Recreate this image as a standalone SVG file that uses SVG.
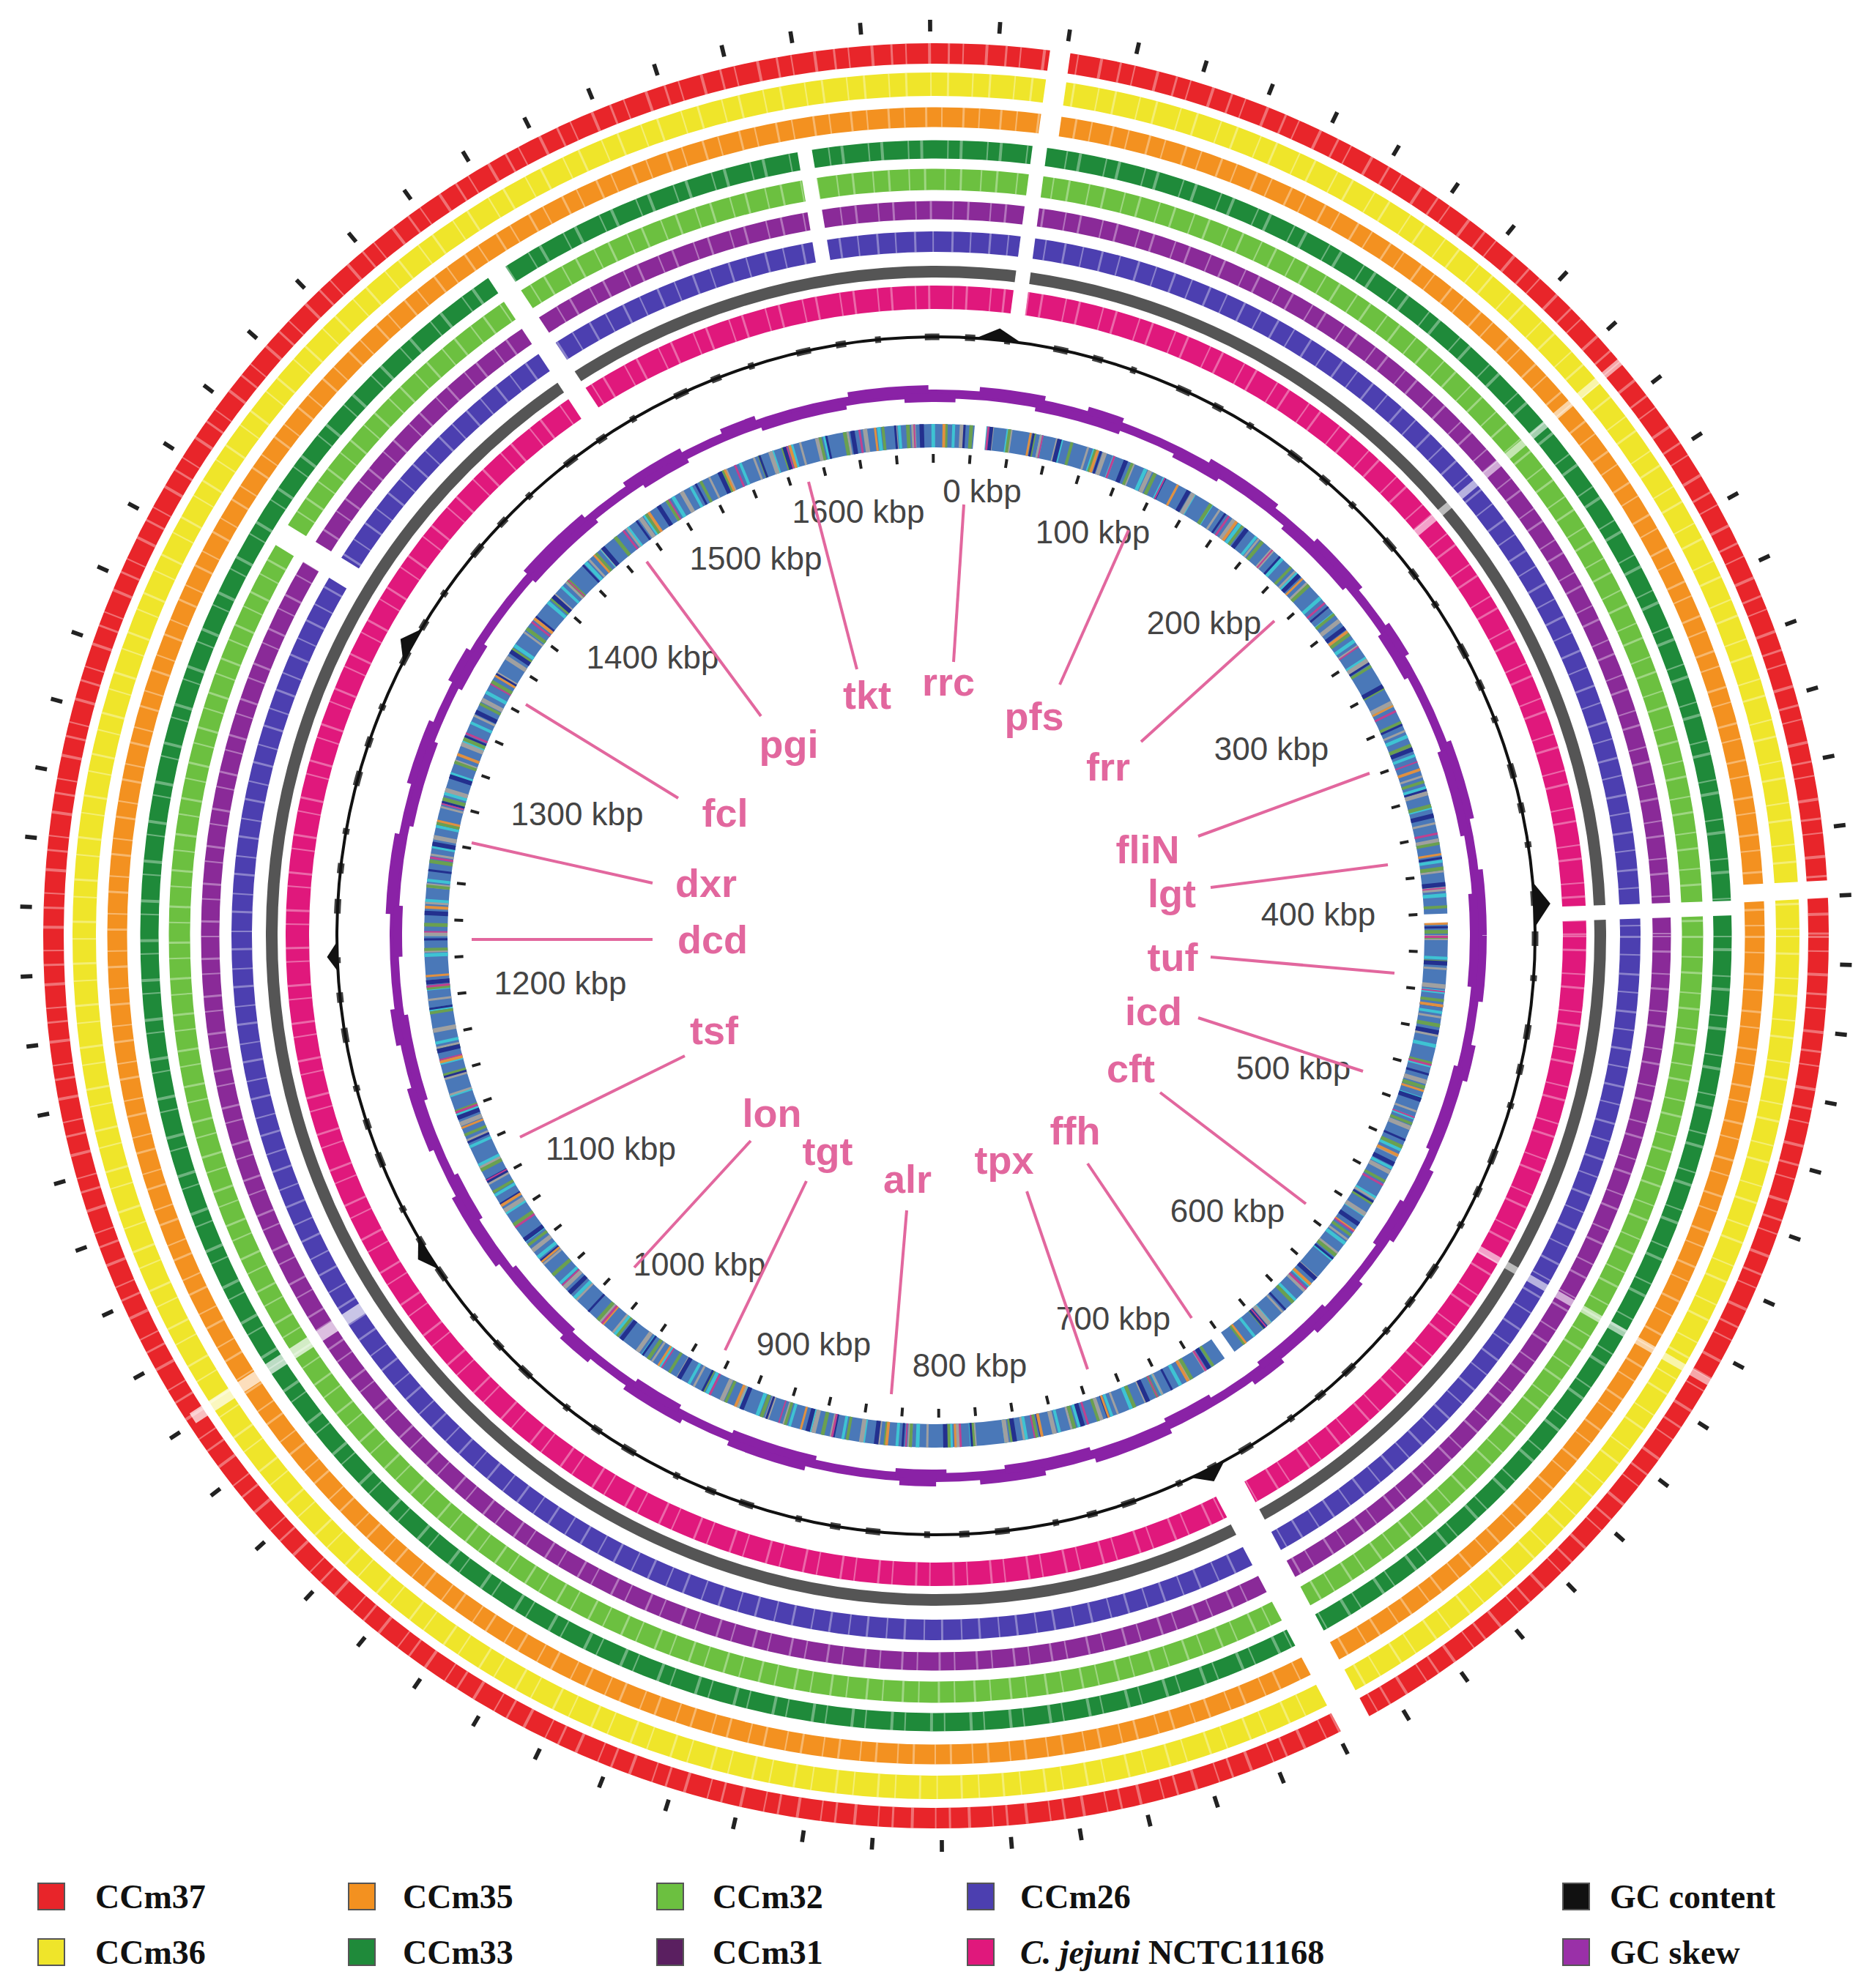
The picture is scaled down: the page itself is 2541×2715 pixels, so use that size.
<svg xmlns="http://www.w3.org/2000/svg" width="2541" height="2715" viewBox="0 0 2541 2715">
<style>
.ring{fill:none}
.tex{fill:none;stroke:#fff;stroke-opacity:0.35}
.kbp{font-family:"Liberation Sans",Arial,sans-serif;font-size:44px;fill:#444;text-anchor:middle;dominant-baseline:central}
.gene{font-family:"Liberation Sans",Arial,sans-serif;font-size:54px;font-weight:bold;fill:#e2679e;text-anchor:middle;dominant-baseline:central}
.gl{stroke:#e2679e;stroke-width:4}
.leg{font-family:"Liberation Serif","Times New Roman",serif;font-size:46px;font-weight:bold;fill:#111}
.sq{stroke:#555;stroke-width:2}
.gap{fill:#fff}
.spike{fill:#111}
</style>
<rect width="2541" height="2715" fill="#fff"/>
<g id="rings" transform="translate(1278,1278)">
<circle class="ring" r="1205" stroke="#e8252a" stroke-width="28"/>
<circle class="ring" r="1163" stroke="#efe52a" stroke-width="32"/>
<circle class="ring" r="1118" stroke="#f39120" stroke-width="27"/>
<circle class="ring" r="1074" stroke="#1f8a3a" stroke-width="25"/>
<circle class="ring" r="1033" stroke="#6cc040" stroke-width="29"/>
<circle class="ring" r="991" stroke="#8a2a98" stroke-width="25"/>
<circle class="ring" r="948" stroke="#4c3fb0" stroke-width="28"/>
<circle class="ring" r="907" stroke="#555" stroke-width="16"/>
<circle class="ring" r="872" stroke="#e0187c" stroke-width="32"/>
<circle class="tex" r="1205" stroke-width="28" stroke-dasharray="3 17 2 29 4 23"/>
<circle class="tex" r="1163" stroke-width="32" stroke-dasharray="2 21 3 31"/>
<circle class="tex" r="1118" stroke-width="27" stroke-dasharray="3 19 2 27"/>
<circle class="tex" r="1074" stroke-width="25" stroke-dasharray="2 15 4 33"/>
<circle class="tex" r="1033" stroke-width="29" stroke-dasharray="3 25 2 19"/>
<circle class="tex" r="991" stroke-width="25" stroke-dasharray="2 18 3 28"/>
<circle class="tex" r="948" stroke-width="28" stroke-dasharray="3 22 2 24"/>
<circle class="tex" r="872" stroke-width="32" stroke-dasharray="2 16 3 30"/>
<g>
<rect class="gap" x="1088" y="-14" width="144" height="28" transform="rotate(-82)"/>
<rect class="gap" x="850" y="-10" width="240" height="20" transform="rotate(-82.5)"/>
<rect class="gap" x="930" y="-10" width="160" height="20" transform="rotate(-99.5)"/>
<rect class="gap" x="1100" y="-12" width="130" height="24" transform="rotate(-3)"/>
<rect class="gap" x="850" y="-10" width="240" height="20" transform="rotate(-2)"/>
<rect class="gap" x="850" y="-22" width="380" height="44" transform="rotate(62)"/>
<rect class="gap" x="850" y="-14" width="250" height="28" transform="rotate(-123.5)"/>
<rect class="gap" x="920" y="-16" width="140" height="32" transform="rotate(-148.5)"/>
<rect class="gap" x="930" y="-8" width="280" height="16" transform="rotate(147)" opacity="0.7"/>
<rect class="gap" x="850" y="-5" width="380" height="10" transform="rotate(-40)" opacity="0.6"/>
<rect class="gap" x="850" y="-5" width="380" height="10" transform="rotate(30)" opacity="0.6"/>
</g>
<circle class="ring" r="1243" stroke="#222" stroke-width="16" pathLength="82" stroke-dasharray="0.06 0.94" transform="rotate(-90.5)"/>
<!-- GC content -->
<circle class="ring" r="818" stroke="#111" stroke-width="4"/>
<circle class="ring" r="818" stroke="#111" stroke-width="9" stroke-dasharray="14 40 8 60 20 35" opacity="0.8"/>
<path class="spike" d="M-30,-818 L0,-834 L30,-818 Z" transform="rotate(6)"/>
<path class="spike" d="M-30,-818 L0,-840 L30,-818 Z" transform="rotate(87)"/>
<path class="spike" d="M-25,-818 L0,-836 L25,-818 Z" transform="rotate(153)"/>
<path class="spike" d="M-25,-818 L0,-834 L25,-818 Z" transform="rotate(238)"/>
<path class="spike" d="M-20,-818 L0,-832 L20,-818 Z" transform="rotate(268)"/>
<path class="spike" d="M-25,-818 L0,-836 L25,-818 Z" transform="rotate(299)"/>
<!-- GC skew -->
<circle class="ring" r="740" stroke="#8a22a6" stroke-width="12"/>
<circle class="ring" r="745" stroke="#8a22a6" stroke-width="14" stroke-dasharray="90 60 50 130 110 70"/>
<circle class="ring" r="735" stroke="#8a22a6" stroke-width="12" stroke-dasharray="70 110 120 80"/>
<!-- gene ring -->
<circle class="ring" r="683" stroke="#4a78b8" stroke-width="32"/>
<circle class="ring" r="683" stroke="#3ec3d3" stroke-width="32" stroke-dasharray="5 23 4 41"/>
<circle class="ring" r="683" stroke="#a0a0a0" stroke-width="32" stroke-dasharray="6 37 3 19"/>
<circle class="ring" r="683" stroke="#6aa050" stroke-width="32" stroke-dasharray="4 29 5 47"/>
<circle class="ring" r="683" stroke="#23308e" stroke-width="32" stroke-dasharray="3 31 6 53"/>
<circle class="ring" r="683" stroke="#e09040" stroke-width="32" stroke-dasharray="3 89 4 113"/>
<circle class="ring" r="683" stroke="#c04090" stroke-width="32" stroke-dasharray="3 71 2 97"/>
<rect class="gap" x="660" y="-8" width="50" height="16" transform="rotate(-85)"/>
<rect class="gap" x="660" y="-6" width="50" height="12" transform="rotate(-2)"/>
<rect class="gap" x="660" y="-8" width="50" height="16" transform="rotate(55)"/>
<circle class="ring" r="652" stroke="#222" stroke-width="12" pathLength="82" stroke-dasharray="0.08 0.92" transform="rotate(-90.5)"/>
</g>
<g id="kbp-labels">
<text class="kbp" x="1341" y="670">0 kbp</text>
<text class="kbp" x="1492" y="726">100 kbp</text>
<text class="kbp" x="1644" y="850">200 kbp</text>
<text class="kbp" x="1736" y="1022">300 kbp</text>
<text class="kbp" x="1800" y="1248">400 kbp</text>
<text class="kbp" x="1766" y="1458">500 kbp</text>
<text class="kbp" x="1676" y="1653">600 kbp</text>
<text class="kbp" x="1520" y="1800">700 kbp</text>
<text class="kbp" x="1324" y="1864">800 kbp</text>
<text class="kbp" x="1111" y="1835">900 kbp</text>
<text class="kbp" x="955" y="1726">1000 kbp</text>
<text class="kbp" x="834" y="1568">1100 kbp</text>
<text class="kbp" x="765" y="1342">1200 kbp</text>
<text class="kbp" x="788" y="1111">1300 kbp</text>
<text class="kbp" x="891" y="897">1400 kbp</text>
<text class="kbp" x="1032" y="762">1500 kbp</text>
<text class="kbp" x="1172" y="698">1600 kbp</text>
</g>
<g id="connectors">
<line class="gl" x1="1302" y1="904" x2="1316" y2="689"/>
<line class="gl" x1="1170" y1="914" x2="1104" y2="658"/>
<line class="gl" x1="1039" y1="978" x2="883" y2="767"/>
<line class="gl" x1="1447" y1="935" x2="1541" y2="724"/>
<line class="gl" x1="1558" y1="1013" x2="1740" y2="848"/>
<line class="gl" x1="1636" y1="1142" x2="1870" y2="1056"/>
<line class="gl" x1="1653" y1="1212" x2="1895" y2="1181"/>
<line class="gl" x1="1653" y1="1307" x2="1904" y2="1329"/>
<line class="gl" x1="1636" y1="1390" x2="1861" y2="1463"/>
<line class="gl" x1="1584" y1="1492" x2="1783" y2="1644"/>
<line class="gl" x1="1485" y1="1589" x2="1627" y2="1800"/>
<line class="gl" x1="1402" y1="1627" x2="1485" y2="1870"/>
<line class="gl" x1="1238" y1="1653" x2="1217" y2="1904"/>
<line class="gl" x1="1101" y1="1613" x2="990" y2="1844"/>
<line class="gl" x1="1025" y1="1558" x2="866" y2="1731"/>
<line class="gl" x1="935" y1="1442" x2="710" y2="1553"/>
<line class="gl" x1="891" y1="1283" x2="644" y2="1283"/>
<line class="gl" x1="891" y1="1206" x2="644" y2="1151"/>
<line class="gl" x1="926" y1="1090" x2="718" y2="962"/>
</g>
<g id="gene-labels">
<text id="rrc" class="gene" x="1295" y="931">rrc</text>
<text id="tkt" class="gene" x="1184" y="949">tkt</text>
<text id="pgi" class="gene" x="1077" y="1016">pgi</text>
<text id="pfs" class="gene" x="1412" y="978">pfs</text>
<text id="frr" class="gene" x="1513" y="1047">frr</text>
<text id="fliN" class="gene" x="1567" y="1160">fliN</text>
<text id="lgt" class="gene" x="1600" y="1220">lgt</text>
<text id="tuf" class="gene" x="1601" y="1307">tuf</text>
<text id="icd" class="gene" x="1575" y="1381">icd</text>
<text id="cft" class="gene" x="1544" y="1459">cft</text>
<text id="ffh" class="gene" x="1468" y="1544">ffh</text>
<text id="tpx" class="gene" x="1371" y="1584">tpx</text>
<text id="alr" class="gene" x="1239" y="1610">alr</text>
<text id="tgt" class="gene" x="1130" y="1572">tgt</text>
<text id="lon" class="gene" x="1054" y="1520">lon</text>
<text id="tsf" class="gene" x="975" y="1407">tsf</text>
<text id="dcd" class="gene" x="973" y="1283">dcd</text>
<text id="dxr" class="gene" x="964" y="1206">dxr</text>
<text id="fcl" class="gene" x="990" y="1110">fcl</text>
</g>
<g id="legend">
<rect class="sq" x="52" y="2572" width="36" height="36" fill="#e8252a"/><text class="leg" x="130" y="2606">CCm37</text>
<rect class="sq" x="52" y="2648" width="36" height="36" fill="#efe52a"/><text class="leg" x="130" y="2682">CCm36</text>
<rect class="sq" x="476" y="2572" width="36" height="36" fill="#f39120"/><text class="leg" x="550" y="2606">CCm35</text>
<rect class="sq" x="476" y="2648" width="36" height="36" fill="#1f8a3a"/><text class="leg" x="550" y="2682">CCm33</text>
<rect class="sq" x="897" y="2572" width="36" height="36" fill="#6cc040"/><text class="leg" x="973" y="2606">CCm32</text>
<rect class="sq" x="897" y="2648" width="36" height="36" fill="#5a1f60"/><text class="leg" x="973" y="2682">CCm31</text>
<rect class="sq" x="1321" y="2572" width="36" height="36" fill="#4c3fb0"/><text class="leg" x="1393" y="2606">CCm26</text>
<rect class="sq" x="1321" y="2648" width="36" height="36" fill="#e0187c"/><text class="leg" x="1393" y="2682"><tspan font-style="italic">C. jejuni</tspan> NCTC11168</text>
<rect class="sq" x="2134" y="2572" width="36" height="36" fill="#111"/><text class="leg" x="2198" y="2606">GC content</text>
<rect class="sq" x="2134" y="2648" width="36" height="36" fill="#9a30a8"/><text class="leg" x="2198" y="2682">GC skew</text>
</g>
</svg>
